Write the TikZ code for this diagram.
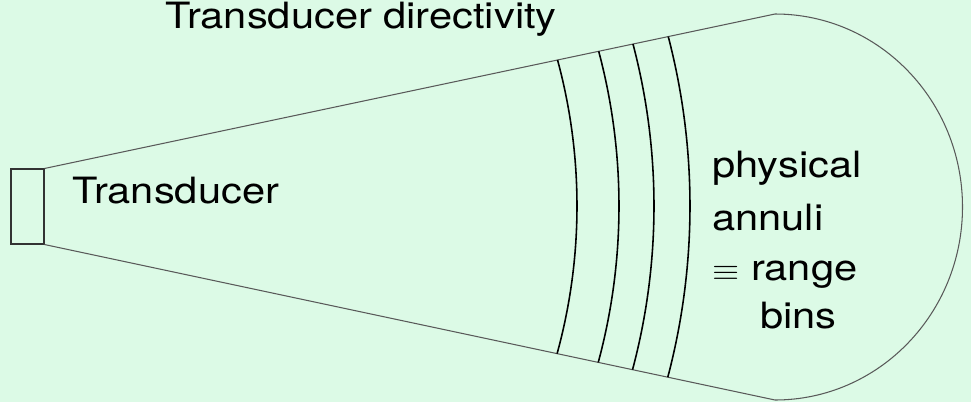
\documentclass[tikz,border=0pt]{standalone}
\usepackage{fontspec}
\setsansfont{TeX Gyre Heros}
\usepackage{tikz}
\usetikzlibrary{positioning}
\definecolor{bgmint}{HTML}{DCFAE6}

\tikzset{
  lbl/.style={font=\sffamily\fontsize{20.6}{24}\selectfont, inner sep=0pt, anchor=base west, xscale=1.15, transform shape},
  beam/.style={draw=black!65, line width=0.6pt},
  bin/.style={draw=black, line width=0.9pt}
}

\begin{document}
\begin{tikzpicture}
\fill[bgmint] (0,0) rectangle (19.42,8.04);
\useasboundingbox (0,0) rectangle (19.42,8.04);

% transducer face
\node[draw=black!80, line width=0.6pt, minimum width=0.66cm, minimum height=1.5cm, inner sep=0pt] (xdcr) at (0.55,3.91) {};

% beam outline
\coordinate (tip top) at (15.5,7.76);
\coordinate (tip bot) at (15.5,0.04);
\draw[beam] (xdcr.north east) -- (tip top);
\draw[beam] (xdcr.south east) -- (tip bot);
\draw[beam] (tip bot) arc[start angle=-90, end angle=90, x radius=3.75cm, y radius=3.86cm];

% range bins
\begin{scope}
\clip (xdcr.north east) -- (tip top) -- (tip bot) -- (xdcr.south east) -- cycle;
\foreach \r in {11.14, 11.98, 12.68, 13.40}
  \draw[bin] (0.4,3.92) ++(-35:\r cm) arc[start angle=-35, end angle=35, radius=\r cm];
\end{scope}

% labels
\node[lbl] (directivity) at (3.3,7.48) {Transducer directivity};
\node[lbl] (xdcr label) at (1.44,3.98) {Transducer};
\node[lbl] (annuli a) at (14.24,4.50) {physical};
\node[lbl] (annuli b) at (14.24,3.44) {annuli};
\node[lbl] (annuli c) at (14.24,2.44) {{\fontsize{16}{16}\selectfont$\equiv$} range};
\node[lbl] (annuli d) at (15.2,1.48) {bins};
\end{tikzpicture}
\end{document}
